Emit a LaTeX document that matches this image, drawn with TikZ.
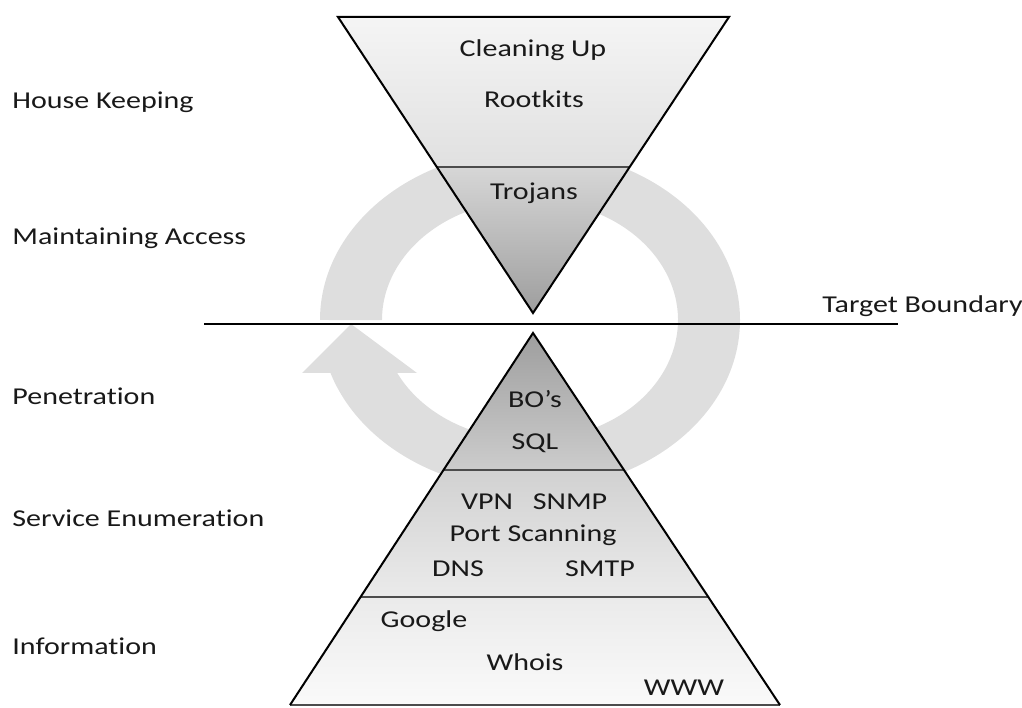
\documentclass[tikz,border=0pt]{standalone}
\usepackage{fontspec}
\setmainfont[FakeStretch=1.24,Ligatures=NoCommon]{Carlito}
\usetikzlibrary{calc}
\newcommand{\labelfont}{\fontsize{12.1}{14}\selectfont}
\definecolor{ringgray}{HTML}{DEDEDE}
\tikzset{>=latex}
\tikzset{
  phase/.style={anchor=base west, inner sep=0pt, font=\labelfont, text=black!90},
  item/.style={anchor=base, inner sep=0pt, font=\labelfont, text=black!90},
  tri/.style={draw=black, line width=1pt, line join=miter},
  layer/.style={draw=black!70, line width=0.8pt},
}

\begin{document}
\begin{tikzpicture}[x=0.5pt,y=0.5pt]
  \useasboundingbox (0,0) rectangle (1022,707);
  % circular arrow behind the triangles
  \fill[ringgray] (320,387) arc (180:-161.8:210 and 170) -- (397.2,334)
    arc (-153.8:180:148 and 120) -- cycle;
  \fill[ringgray] (302,334) -- (351,383) -- (417,334) -- cycle;

  % corners
  \coordinate (tl) at (338,690); \coordinate (tr) at (729,690); \coordinate (ta) at (533,394);
  \coordinate (bl) at (290,2);   \coordinate (br) at (780,2);   \coordinate (ba) at (533,374);
  \coordinate (tdl) at ($(ta)!0.493!(tl)$); \coordinate (tdr) at ($(ta)!0.493!(tr)$);
  \coordinate (b1l) at ($(ba)!0.368!(bl)$); \coordinate (b1r) at ($(ba)!0.368!(br)$);
  \coordinate (b2l) at ($(ba)!0.71!(bl)$);  \coordinate (b2r) at ($(ba)!0.71!(br)$);

  % top triangle
  \shade[top color=black!4, bottom color=black!12] (tl) -- (tr) -- (tdr) -- (tdl) -- cycle;
  \shade[top color=black!16, bottom color=black!38] (tdl) -- (tdr) -- (ta) -- cycle;
  \draw[layer] (tdl) -- (tdr);
  \draw[tri] (tl) -- (tr) -- (ta) -- cycle;

  % bottom triangle
  \shade[top color=black!38, bottom color=black!20] (ba) -- (b1r) -- (b1l) -- cycle;
  \shade[top color=black!18, bottom color=black!8] (b1l) -- (b1r) -- (b2r) -- (b2l) -- cycle;
  \shade[top color=black!8, bottom color=black!2] (b2l) -- (b2r) -- (br) -- (bl) -- cycle;
  \draw[layer] (b1l) -- (b1r);
  \draw[layer] (b2l) -- (b2r);
  \draw[layer] (bl) -- (br);
  \draw[tri] (bl) -- (ba) -- (br);

  % target boundary
  \coordinate (tbl) at (204,383); \coordinate (tbr) at (898,383);
  \draw[line width=1pt] (tbl) -- (tbr);
  \node[phase] (target) at (822,394) {Target Boundary};

  % phases
  \node[phase] (house) at (12,598) {House Keeping};
  \node[phase] (maint) at (12,462) {Maintaining Access};
  \node[phase] (pen)   at (12,302) {Penetration};
  \node[phase] (serv)  at (12,181) {Service Enumeration};
  \node[phase] (info)  at (12,53)  {Information};

  % contents
  \node[item] (clean)  at (533,650) {Cleaning Up};
  \node[item] (root)   at (534,599) {Rootkits};
  \node[item] (troj)   at (534,507) {Trojans};
  \node[item] (bos)    at (535,299) {BO’s};
  \node[item] (sql)    at (535,257) {SQL};
  \node[item] (vpn)    at (487,198) {VPN};
  \node[item] (snmp)   at (570,198) {SNMP};
  \node[item] (port)   at (533,165) {Port Scanning};
  \node[item] (dns)    at (458,131) {DNS};
  \node[item] (smtp)   at (600,131) {SMTP};
  \node[item] (google) at (424,80)  {Google};
  \node[item] (whois)  at (525,37)  {Whois};
  \node[item] (www)    at (684,12)  {WWW};
\end{tikzpicture}
\end{document}
